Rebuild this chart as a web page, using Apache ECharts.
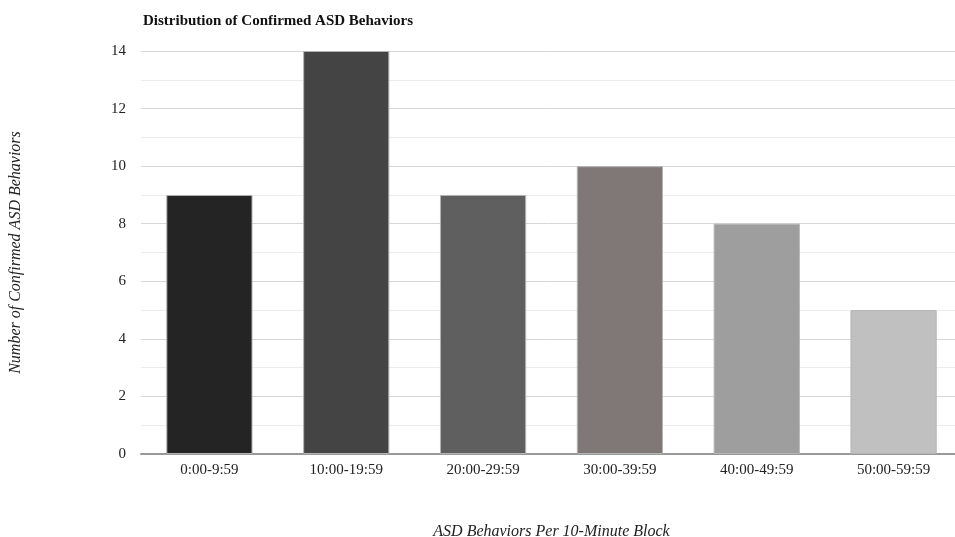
<!DOCTYPE html>
<html>
<head>
<meta charset="utf-8">
<script src="https://cdn.jsdelivr.net/npm/echarts@6/dist/echarts.min.js"></script>
<style>
  html, body { margin: 0; padding: 0; background: #fff; }
  #chart { width: 955px; height: 537px; }
</style>
</head>
<body>
<div id="chart"></div>
<script>
// Time blocks within the hour
const categories = ['0:00-9:59', '10:00-19:59', '20:00-29:59', '30:00-39:59', '40:00-49:59', '50:00-59:59'];
// Confirmed behaviours counted in each block
const counts = [9, 14, 9, 10, 8, 5];
// Fill for each bar, dark to light
const barColors = ['#252424', '#444444', '#5f5f5f', '#807876', '#9e9e9e', '#c0c0c0'];
const yTicks = [0, 2, 4, 6, 8, 10, 12, 14];

const serif = '"Liberation Serif", "Times New Roman", serif';

const chart = echarts.init(document.getElementById('chart'), null, { renderer: 'canvas' });

chart.setOption({
  animation: false,
  backgroundColor: '#ffffff',
  title: {
    text: 'Distribution of Confirmed ASD Behaviors',
    left: 138,
    top: 9,
    textStyle: { fontFamily: serif, fontSize: 15, fontWeight: 'bold', color: '#111' }
  },
  grid: { left: 141, right: -7, top: 51, bottom: 83, containLabel: false, outerBoundsMode: 'none' },
  xAxis: {
    type: 'category',
    data: categories,
    name: 'ASD Behaviors Per 10-Minute Block',
    nameLocation: 'middle',
    nameGap: 70,
    nameTextStyle: { fontFamily: serif, fontSize: 16, fontStyle: 'italic', color: '#222' },
    axisLine: { lineStyle: { color: '#999', width: 2 } },
    axisTick: { show: false },
    axisLabel: { fontFamily: serif, fontSize: 15, color: '#222', margin: 9 }
  },
  yAxis: {
    type: 'value',
    min: 0,
    max: yTicks[yTicks.length - 1],
    interval: 2,
    name: 'Number of Confirmed ASD Behaviors',
    nameLocation: 'middle',
    nameGap: 117,
    nameRotate: 90,
    nameTextStyle: { fontFamily: serif, fontSize: 16, fontStyle: 'italic', color: '#222' },
    axisLine: { show: false },
    axisTick: { show: false },
    axisLabel: { fontFamily: serif, fontSize: 15, color: '#222', margin: 15 },
    splitLine: { lineStyle: { color: '#d6d6d6', width: 1 } },
    minorTick: { show: false, splitNumber: 2 },
    minorSplitLine: { show: true, lineStyle: { color: '#ececec', width: 1 } }
  },
  series: [{
    type: 'bar',
    data: counts.map((v, i) => ({
      value: v,
      itemStyle: { color: barColors[i], borderColor: '#b4b4b4', borderWidth: 1 }
    })),
    barWidth: '63%'
  }]
});
</script>
</body>
</html>
